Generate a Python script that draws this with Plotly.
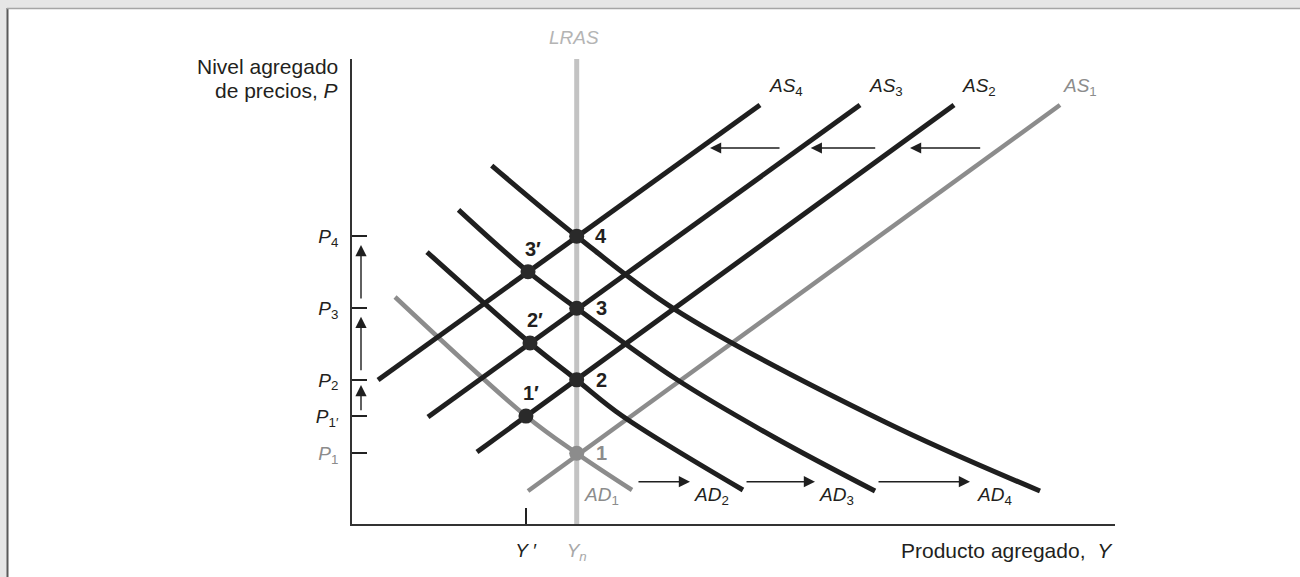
import plotly.graph_objects as go

FONT = "Liberation Sans, Arial, Helvetica, sans-serif"
BLACK = "#1f1f1f"
GRAY = "#8c8c8c"
LRAS_GRAY = "#c3c3c3"
TEXT = "#231f20"
FS = 19
FS_TITLE = 21

# ---------------- data (arbitrary economic units: Y 0-100, P 0-100) ----------------
p_tick_vals = [15.2, 23.2, 31.0, 46.4, 61.9]
p_tick_text = ["<span style='color:#8c8c8c'><i>P</i><sub>1</sub></span>",
               "<i>P</i><sub>1′</sub>",
               "<i>P</i><sub>2</sub>",
               "<i>P</i><sub>3</sub>",
               "<i>P</i><sub>4</sub>"]
y_prime = 22.8
y_n = 29.45
y_tick_vals = [y_prime, y_n]
y_tick_text = ["<i>Y</i> ′", "<span style='color:#a8a8a8'><i>Y<sub>n</sub></i></span>"]

# short-run aggregate supply curves (straight lines)
as1_y = [23.07, 92.79]; as1_p = [7.10, 90.11]
as2_y = [16.38, 78.90]; as2_p = [15.48, 90.11]
as3_y = [9.96, 66.58];  as3_p = [23.01, 90.11]
as4_y = [3.41, 53.47];  as4_p = [30.97, 90.11]

# aggregate demand curves
ad1_y = [5.64, 22.80, 29.45, 36.70]
ad1_p = [48.82, 23.23, 15.2, 7.31]
ad2_y = [9.83, 23.33, 29.45, 35.39, 51.24]
ad2_p = [58.49, 38.92, 30.97, 23.27, 7.31]
ad3_y = [13.96, 23.07, 29.45, 42.46, 55.50, 68.55]
ad3_p = [67.57, 54.26, 46.40, 31.18, 18.50, 7.10]
ad4_y = [18.31, 29.45, 42.20, 69.86, 90.17]
ad4_p = [77.08, 61.90, 46.28, 21.94, 7.10]

# long-run LRAS line
lras_p = [0, 100]

# equilibrium points
lr_points_p = [15.2, 31.0, 46.4, 61.9]          # 1, 2, 3, 4 at Y_n
lr_labels = ["1", "2", "3", "4"]
sr_points_y = [22.80, 23.33, 23.07]              # 1', 2', 3'
sr_points_p = [23.2, 38.92, 54.26]
sr_labels = ["1′", "2′", "3′"]

# shift arrows (tail -> tip)
as_arrow_tail_y = [82.53, 68.77, 56.23]; as_arrow_tip_y = [73.13, 60.12, 46.92]; as_arrow_p = 80.86
ad_arrow_tail_y = [37.35, 51.51, 68.81]; ad_arrow_tip_y = [44.30, 60.68, 81.00]; ad_arrow_p = 9.10
p_arrow_y = 1.18
p_arrow_tail_p = [24.15, 32.75, 48.17]; p_arrow_tip_p = [29.89, 44.58, 60.00]

# ---------------- figure ----------------
fig = go.Figure()

def line(x, y, color, width, shape="linear"):
    fig.add_trace(go.Scatter(x=x, y=y, mode="lines", line=dict(color=color, width=width, shape=shape),
                             hoverinfo="skip", showlegend=False))

line([y_n, y_n], lras_p, LRAS_GRAY, 5)
line(as1_y, as1_p, GRAY, 4.5)
line(ad1_y, ad1_p, GRAY, 4.5, "spline")
line(as2_y, as2_p, BLACK, 5)
line(as3_y, as3_p, BLACK, 5)
line(as4_y, as4_p, BLACK, 5)
line(ad2_y, ad2_p, BLACK, 5, "spline")
line(ad3_y, ad3_p, BLACK, 5, "spline")
line(ad4_y, ad4_p, BLACK, 5, "spline")

fig.add_trace(go.Scatter(x=[y_n], y=lr_points_p[:1], mode="markers",
                         marker=dict(size=15, color=GRAY), hoverinfo="skip", showlegend=False))
fig.add_trace(go.Scatter(x=[y_n] * 3, y=lr_points_p[1:], mode="markers",
                         marker=dict(size=15, color="#2a2a2a"), hoverinfo="skip", showlegend=False))
fig.add_trace(go.Scatter(x=sr_points_y, y=sr_points_p, mode="markers",
                         marker=dict(size=15, color="#2a2a2a"), hoverinfo="skip", showlegend=False))

ann = []
def text(x, y, t, color=TEXT, size=FS, xanchor="center", yanchor="middle", xref="x", yref="y", align="center"):
    ann.append(dict(x=x, y=y, text=t, xref=xref, yref=yref, showarrow=False, xanchor=xanchor,
                    yanchor=yanchor, align=align, font=dict(family=FONT, size=size, color=color)))

# point labels
for p, lab in zip(lr_points_p, lr_labels):
    text(y_n + 3.2, p, "<b>%s</b>" % lab, color=GRAY if lab == "1" else TEXT, size=20)
for yy, p, lab in zip(sr_points_y, sr_points_p, sr_labels):
    text(yy + 0.7, p + 4.9, "<b>%s</b>" % lab, size=20)

# curve labels
as_lab_y = [92.92, 79.69, 67.50, 54.39]
for i, yy in enumerate(as_lab_y):
    text(yy, 94.0, "<i>AS</i><sub>%d</sub>" % (i + 1), color=GRAY if i == 0 else TEXT, xanchor="left")
ad_lab_y = [30.14, 44.56, 60.94, 81.65]
for i, yy in enumerate(ad_lab_y):
    text(yy, 6.0, "<i>AD</i><sub>%d</sub>" % (i + 1), color=GRAY if i == 0 else TEXT, xanchor="left")

text(y_n - 0.3, (577 - 37) / 577, "<i>LRAS</i>", color="#b4b4b4", yref="paper")

# axis titles
text(340 / 1300, (577 - 66) / 577, "Nivel agregado", xref="paper", yref="paper", xanchor="right", size=FS_TITLE)
text(340 / 1300, (577 - 90) / 577, "de precios, <i>P</i>", xref="paper", yref="paper", xanchor="right", size=FS_TITLE)
text(1115 / 1300, (577 - 550) / 577, "Producto agregado,  <i>Y</i>", xref="paper", yref="paper", xanchor="right",
     size=FS_TITLE)

# arrows
def arrow(x, y, ax, ay):
    ann.append(dict(x=x, y=y, ax=ax, ay=ay, xref="x", yref="y", axref="x", ayref="y", text="",
                    showarrow=True, arrowhead=2, arrowsize=1.6, arrowwidth=1.4, arrowcolor=BLACK))

for t, h in zip(as_arrow_tail_y, as_arrow_tip_y):
    arrow(h, as_arrow_p, t, as_arrow_p)
for t, h in zip(ad_arrow_tail_y, ad_arrow_tip_y):
    arrow(h, ad_arrow_p, t, ad_arrow_p)
for t, h in zip(p_arrow_tail_p, p_arrow_tip_p):
    arrow(p_arrow_y, h, p_arrow_y, t)

BAND = "#e6e6e6"
shapes = [
    dict(type="rect", xref="paper", yref="paper", x0=-0.02, x1=1.02, y0=(577 - 8) / 577, y1=1.02,
         fillcolor=BAND, line=dict(width=0), layer="below"),
    dict(type="rect", xref="paper", yref="paper", x0=-0.02, x1=7 / 1300, y0=-0.02, y1=1.02,
         fillcolor=BAND, line=dict(width=0), layer="below"),
    dict(type="line", xref="paper", yref="paper", x0=7.5 / 1300, x1=7.5 / 1300, y0=-0.02, y1=(577 - 8) / 577,
         line=dict(color="#5a5a5a", width=2), layer="below"),
    dict(type="line", xref="paper", yref="paper", x0=7 / 1300, x1=1.02, y0=(577 - 8.5) / 577, y1=(577 - 8.5) / 577,
         line=dict(color="#a5a5a5", width=1.5), layer="below"),
]

fig.update_layout(
    width=1300, height=577,
    margin=dict(l=0, r=0, t=0, b=0),
    paper_bgcolor="white", plot_bgcolor="white",
    showlegend=False,
    annotations=ann, shapes=shapes,
    font=dict(family=FONT, size=FS, color=TEXT),
    xaxis=dict(domain=[352 / 1300, 1115 / 1300], range=[0, 100], showgrid=False, zeroline=False,
               showline=True, linecolor="#333", linewidth=1.5, ticks="inside", ticklen=16, tickwidth=1.5,
               tickcolor="#222", tickvals=y_tick_vals, ticktext=y_tick_text, ticklabelstandoff=8,
               tickfont=dict(family=FONT, size=FS, color=TEXT), layer="below traces", fixedrange=True),
    yaxis=dict(domain=[(577 - 524) / 577, (577 - 59) / 577], range=[0, 100], showgrid=False, zeroline=False,
               showline=True, linecolor="#333", linewidth=1.5, ticks="inside", ticklen=15, tickwidth=1.5,
               tickcolor="#222", tickvals=p_tick_vals, ticktext=p_tick_text, ticklabelstandoff=8,
               tickfont=dict(family=FONT, size=FS, color=TEXT), layer="below traces", fixedrange=True),
)

fig.write_html("out.html", config={"displayModeBar": False},
               post_script="document.body.style.margin='0';document.body.style.overflow='hidden';")
